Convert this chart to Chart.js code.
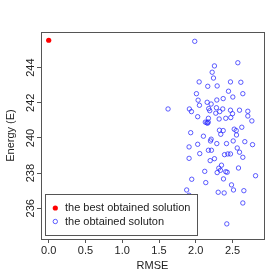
<!DOCTYPE html>
<html>
<head>
<meta charset="utf-8">
<script src="https://cdn.jsdelivr.net/npm/chart.js@4"></script>
<style>
  html, body { margin: 0; padding: 0; background: #fff; }
  #wrap { width: 280px; height: 280px; }
</style>
</head>
<body>
<div id="wrap"><canvas id="scatterChart" width="280" height="280"></canvas></div>
<script>
const bestRmse = [0.0];
const bestEnergy = [245.56];

const rmse = [
  1.986, 2.572, 2.254, 2.223, 2.241, 2.046, 2.472, 2.613, 2.163, 2.291,
  2.445, 2.640, 2.009, 2.504, 2.373, 2.286, 2.032, 2.155, 2.209, 2.050,
  1.623, 1.913, 2.176, 2.281, 2.367, 2.472, 2.595, 2.708, 1.941, 2.190,
  2.272, 2.326, 2.500, 2.708, 2.026, 2.172, 2.318, 2.408, 2.476, 2.763,
  2.130, 2.150, 2.170, 2.160, 2.626, 2.322, 2.373, 2.523, 2.550, 1.931,
  2.104, 2.340, 2.554, 2.209, 1.909, 2.026, 2.200, 2.286, 2.418, 2.509,
  2.564, 2.667, 2.772, 1.909, 2.054, 2.172, 2.213, 2.254, 2.196, 2.391,
  2.436, 2.472, 2.595, 2.640, 2.350, 2.313, 2.336, 2.291, 2.408, 2.427,
  2.581, 2.122, 2.813, 1.945, 2.136, 2.377, 2.486, 2.513, 2.654, 1.876,
  1.909, 2.305, 2.386, 2.640, 2.422, 1.945
];
const energy = [
  245.50, 244.28, 244.10, 243.74, 243.41, 243.19, 243.19, 243.17, 242.94, 242.96,
  242.66, 242.52, 242.52, 242.33, 242.24, 242.16, 242.15, 242.03, 241.93, 241.86,
  241.65, 241.65, 241.67, 241.72, 241.65, 241.58, 241.58, 241.52, 241.50, 241.55,
  241.41, 241.50, 241.38, 241.25, 241.21, 241.12, 241.08, 241.12, 241.16, 240.97,
  240.90, 240.87, 240.90, 240.84, 240.61, 240.44, 240.42, 240.50, 240.42, 240.30,
  240.10, 240.21, 240.17, 239.93, 239.49, 239.64, 239.83, 239.68, 239.68, 239.83,
  239.43, 239.79, 239.62, 238.84, 239.11, 239.30, 239.30, 238.82, 238.71, 239.05,
  239.09, 239.09, 239.19, 238.90, 238.45, 238.28, 238.16, 238.03, 238.08, 238.05,
  238.29, 238.10, 237.85, 237.65, 237.46, 237.67, 237.33, 237.04, 237.00, 237.04,
  236.74, 236.91, 236.87, 236.30, 235.11, 234.71
];

const xTicks = [0.0, 0.5, 1.0, 1.5, 2.0, 2.5];
const yTicks = [236, 238, 240, 242, 244];
const legendLabels = ['the best obtained solution', 'the obtained soluton'];

const FONT = "'Liberation Sans', Arial, sans-serif";

const toPoints = (xs, ys) => xs.map((x, i) => ({ x: x, y: ys[i] }));

// box, rotated y labels and legend inside the plot
const rStyle = {
  id: 'rStyle',
  afterDraw(chart) {
    const { ctx, chartArea: a, scales } = chart;
    ctx.save();
    ctx.strokeStyle = '#555';
    ctx.lineWidth = 1;
    ctx.strokeRect(a.left + 0.5, a.top + 0.5, a.right - a.left, a.bottom - a.top);

    // y tick labels, vertical like R
    const ys = scales.y;
    ctx.fillStyle = '#222';
    ctx.font = '11px ' + FONT;
    ctx.textAlign = 'center';
    ctx.textBaseline = 'middle';
    ys.ticks.forEach(t => {
      const py = ys.getPixelForValue(t.value);
      ctx.save();
      ctx.translate(31, py);
      ctx.rotate(-Math.PI / 2);
      ctx.fillText(t.value.toString(), 0, 0);
      ctx.restore();
    });

    // legend
    const lx = 45, ly = 194, lw = 152, lh = 41;
    ctx.fillStyle = '#fff';
    ctx.fillRect(lx, ly, lw, lh);
    ctx.strokeStyle = '#555';
    ctx.strokeRect(lx + 0.5, ly + 0.5, lw, lh);
    ctx.textAlign = 'left';
    ctx.fillStyle = '#222';
    ctx.fillText(legendLabels[0], 65, 208);
    ctx.fillText(legendLabels[1], 65, 221.5);
    ctx.beginPath();
    ctx.arc(55.3, 208, 2.6, 0, Math.PI * 2);
    ctx.fillStyle = '#ff0000';
    ctx.fill();
    ctx.beginPath();
    ctx.arc(55.3, 221.5, 2.2, 0, Math.PI * 2);
    ctx.strokeStyle = 'rgba(40,40,255,0.75)';
    ctx.stroke();
    ctx.restore();
  }
};

const ctx = document.getElementById('scatterChart').getContext('2d');
new Chart(ctx, {
  type: 'scatter',
  data: {
    datasets: [{
      label: legendLabels[0],
      data: toPoints(bestRmse, bestEnergy),
      pointRadius: 2.6,
      pointBackgroundColor: '#ff0000',
      pointBorderColor: '#ff0000',
      pointBorderWidth: 0
    }, {
      label: legendLabels[1],
      data: toPoints(rmse, energy),
      pointRadius: 2.2,
      pointBackgroundColor: 'rgba(0,0,0,0)',
      pointBorderColor: 'rgba(40,40,255,0.75)',
      pointBorderWidth: 1
    }]
  },
  options: {
    responsive: false,
    animation: false,
    events: [],
    layout: { padding: { left: 0, right: 16, top: 32, bottom: 0 } },
    plugins: { legend: { display: false }, tooltip: { enabled: false } },
    scales: {
      x: {
        type: 'linear',
        min: -0.105,
        max: 2.928,
        afterBuildTicks: s => { s.ticks = xTicks.map(v => ({ value: v })); },
        afterFit: s => { s.height = 41; },
        grid: { drawOnChartArea: false, drawTicks: true, tickLength: 4, tickColor: '#555', color: '#555' },
        border: { display: false },
        ticks: {
          padding: 1,
          color: '#222',
          font: { family: FONT, size: 11 },
          callback: v => v.toFixed(1)
        },
        title: {
          display: true,
          text: 'RMSE',
          color: '#222',
          font: { family: FONT, size: 11 },
          padding: { top: 0, bottom: 7 }
        }
      },
      y: {
        type: 'linear',
        min: 234.25,
        max: 246.03,
        afterBuildTicks: s => { s.ticks = yTicks.map(v => ({ value: v })); },
        afterFit: s => { s.width = 41; },
        grid: { drawOnChartArea: false, drawTicks: true, tickLength: 4, tickColor: '#555', color: '#555' },
        border: { display: false },
        ticks: { display: false },
        title: {
          display: true,
          text: 'Energy (E)',
          color: '#222',
          font: { family: FONT, size: 11 },
          padding: { top: 4, bottom: 0 }
        }
      }
    }
  },
  plugins: [rStyle]
});
</script>
</body>
</html>
